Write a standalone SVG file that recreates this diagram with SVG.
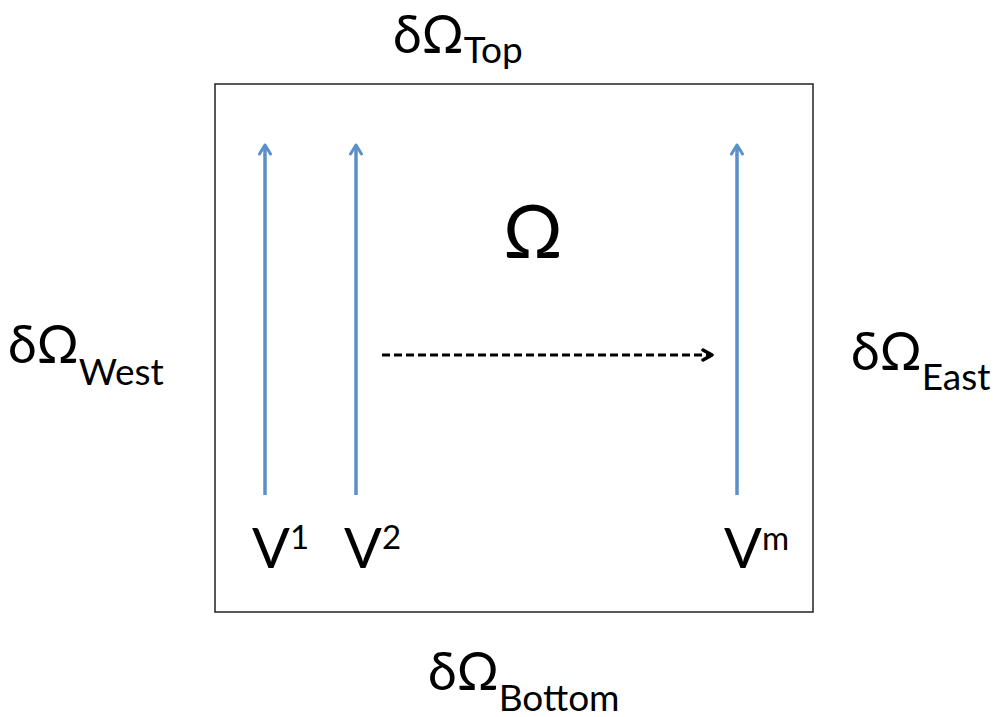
<svg xmlns="http://www.w3.org/2000/svg" width="1002" height="717" viewBox="0 0 1002 717">
<style>
.t{font-family:Lato,"Open Sans","Liberation Sans",sans-serif;fill:#000}
.b{font-size:52px}
.s{font-size:37px}
.v{stroke:#5b8fc9;stroke-width:3.5;fill:none}
</style>
<defs>
<marker id="bh" viewBox="0 0 14 14" refX="11" refY="7" markerWidth="14" markerHeight="14" markerUnits="userSpaceOnUse" orient="auto">
<path d="M2,1.5 L11,7 L2,12.5" fill="none" stroke="#5b8fc9" stroke-width="3" stroke-linecap="round" stroke-linejoin="round"/>
</marker>
<marker id="kh" viewBox="0 0 14 14" refX="12" refY="7" markerWidth="14" markerHeight="14" markerUnits="userSpaceOnUse" orient="auto">
<path d="M3,2 L12,7 L3,12" fill="none" stroke="#000" stroke-width="3.5" stroke-linecap="round" stroke-linejoin="round"/>
</marker>
</defs>
<g id="domain">
<rect x="215" y="84" width="598" height="528" fill="#fff" stroke="#222" stroke-width="1.5"/>
<text class="t" x="533" y="258" font-size="74" text-anchor="middle">Ω</text>
</g>
<g id="top"><text class="t b" x="393" y="53">δΩ<tspan class="s" dy="10">Top</tspan></text></g>
<g id="west"><text class="t b" x="8" y="363">δΩ<tspan class="s" dy="22">West</tspan></text></g>
<g id="east"><text class="t b" x="851" y="370">δΩ<tspan class="s" dy="20">East</tspan></text></g>
<g id="bottom"><text class="t b" x="428" y="690">δΩ<tspan class="s" dy="21">Bottom</tspan></text></g>
<g id="v1"><text class="t" x="252" y="568" font-size="56">V<tspan font-size="33" dy="-19">1</tspan></text></g>
<g id="v2"><text class="t" x="344" y="568" font-size="56">V<tspan font-size="33" dy="-19">2</tspan></text></g>
<g id="vm"><text class="t" x="724" y="568" font-size="56">V<tspan font-size="33" dy="-18">m</tspan></text></g>
<g id="connectors">
<line class="v" x1="265" y1="495" x2="265" y2="145" marker-end="url(#bh)"/>
<line class="v" x1="356" y1="495" x2="356" y2="145" marker-end="url(#bh)"/>
<line class="v" x1="737" y1="495" x2="737" y2="145" marker-end="url(#bh)"/>
<line x1="382" y1="355" x2="712" y2="355" stroke="#000" stroke-width="3" stroke-dasharray="8,4" marker-end="url(#kh)"/>
</g>
</svg>
